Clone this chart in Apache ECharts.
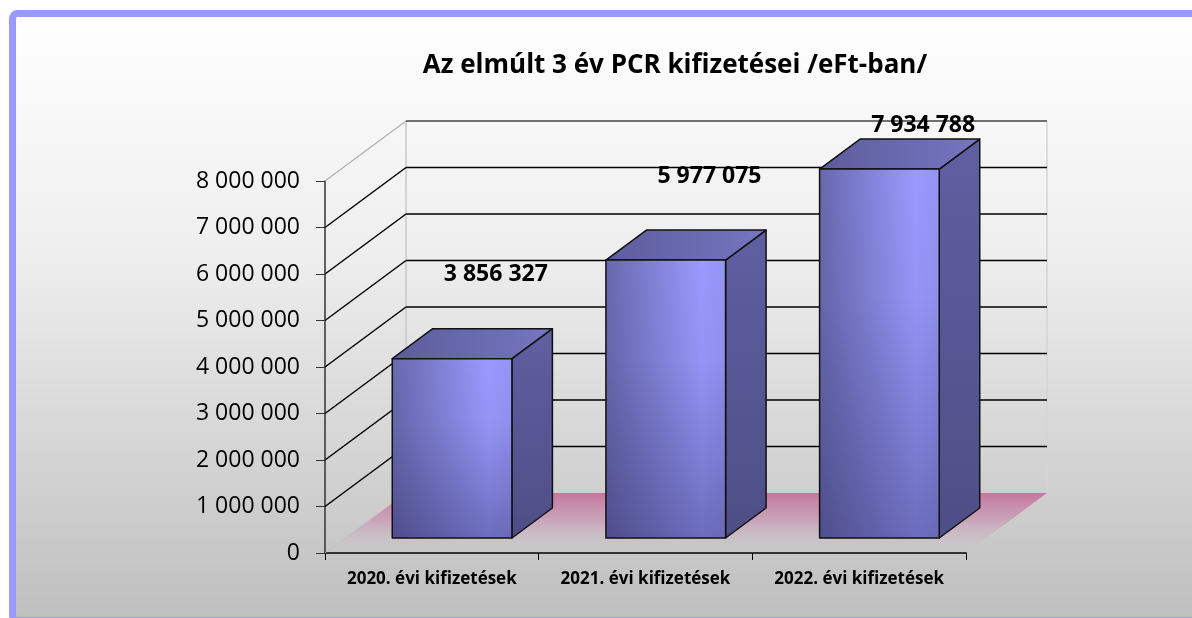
<!DOCTYPE html>
<html>
<head>
<meta charset="utf-8">
<script src="https://cdn.jsdelivr.net/npm/echarts@6/dist/echarts.min.js"></script>
<style>
  html, body { margin: 0; padding: 0; background: #fff; }
  #chart { width: 1192px; height: 618px; }
</style>
</head>
<body>
<div id="chart"></div>
<script>
// chart data
const categories = ['2020. évi kifizetések', '2021. évi kifizetések', '2022. évi kifizetések'];
const payments = [3856327, 5977075, 7934788];
const yTicks = [0, 1000000, 2000000, 3000000, 4000000, 5000000, 6000000, 7000000, 8000000];

// 3D look: depth offset of the back wall
const DX = 81, DY = -60;
const FONT = '"Open Sans", "DejaVu Sans", sans-serif';

const fmt = (v) => String(v).replace(/\B(?=(\d{3})+(?!\d))/g, ' ');

const chart = echarts.init(document.getElementById('chart'));

// back wall, side wall gridlines and the floor
const renderWalls = (params, api) => {
  const cs = params.coordSys;
  const v = api.value(1);
  const y = api.coord([0, v])[1];
  const x0 = cs.x, x1 = cs.x + cs.width;
  const children = [];
  if (v === 0) {
    children.push({
      type: 'polygon',
      shape: { points: [[x0, y], [x1, y], [x1 + DX, y + DY], [x0 + DX, y + DY]] },
      style: {
        fill: new echarts.graphic.LinearGradient(0, 0, 0, 1, [
          { offset: 0, color: 'rgba(198,118,158,1)' },
          { offset: 0.45, color: 'rgba(200,150,178,0.75)' },
          { offset: 1, color: 'rgba(200,200,200,0)' }
        ])
      }
    });
    children.push({
      type: 'line',
      shape: { x1: x0, y1: y, x2: x0 + DX, y2: y + DY },
      style: { stroke: '#bdbdbd', lineWidth: 1, lineDash: [2, 2] }
    });
    // back wall vertical edges
    children.push({
      type: 'line',
      shape: { x1: x0 + DX, y1: cs.y + DY, x2: x0 + DX, y2: y + DY },
      style: { stroke: '#c8c8c8', lineWidth: 1.5 }
    });
    children.push({
      type: 'line',
      shape: { x1: x1 + DX, y1: cs.y + DY, x2: x1 + DX, y2: y + DY },
      style: { stroke: '#d4d4d4', lineWidth: 1.5 }
    });
    return { type: 'group', children: children };
  }
  const top = v === yTicks[yTicks.length - 1];
  children.push({
    type: 'line',
    shape: { x1: x0, y1: y, x2: x0 + DX, y2: y + DY },
    style: { stroke: top ? '#b0b0b0' : '#000', lineWidth: top ? 1.2 : 1.5 }
  });
  children.push({
    type: 'line',
    shape: { x1: x0 + DX, y1: y + DY, x2: x1 + DX, y2: y + DY },
    style: { stroke: top ? '#444' : '#000', lineWidth: 1.5 }
  });
  return { type: 'group', children: children };
};

// 3D bars with their value labels
const renderBar = (params, api) => {
  const cs = params.coordSys;
  const i = api.value(0);
  const v = api.value(1);
  const base = api.coord([i, 0]);
  const topPt = api.coord([i, v]);
  const bw = api.size([1, 0])[0] * 0.56;
  const fx = DX * 0.25, fy = DY * 0.25;
  const ddx = DX * 0.5, ddy = DY * 0.5;
  const l = base[0] - bw / 2 + fx, r = base[0] + bw / 2 + fx;
  const b = base[1] + fy, t = topPt[1] + fy;
  const edge = { stroke: '#111', lineWidth: 1.5, lineJoin: 'round' };
  const labelY = Math.max(t - 84, cs.y - 56);
  return {
    type: 'group',
    children: [
      {
        type: 'polygon',
        shape: { points: [[r, b], [r + ddx, b + ddy], [r + ddx, t + ddy], [r, t]] },
        style: Object.assign({
          fill: new echarts.graphic.LinearGradient(0, 0, 0, 1, [
            { offset: 0, color: '#5f5fa2' },
            { offset: 1, color: '#4e4e86' }
          ])
        }, edge)
      },
      {
        type: 'polygon',
        shape: { points: [[l, t], [r, t], [r + ddx, t + ddy], [l + ddx, t + ddy]] },
        style: Object.assign({
          fill: new echarts.graphic.LinearGradient(0, 0, 1, 0, [
            { offset: 0, color: '#5c5c9c' },
            { offset: 1, color: '#7676c2' }
          ])
        }, edge)
      },
      {
        type: 'rect',
        shape: { x: l, y: t, width: r - l, height: b - t },
        style: {
          fill: new echarts.graphic.LinearGradient(0, 0, 1, 0, [
            { offset: 0, color: '#6868ae' },
            { offset: 0.8, color: '#9a9aff' },
            { offset: 1, color: '#9494f4' }
          ])
        }
      },
      {
        type: 'rect',
        shape: { x: l, y: t, width: r - l, height: b - t },
        style: Object.assign({
          fill: new echarts.graphic.LinearGradient(0, 0, 0, 1, [
            { offset: 0, color: 'rgba(40,40,90,0)' },
            { offset: 0.35, color: 'rgba(40,40,90,0.05)' },
            { offset: 1, color: 'rgba(40,40,90,0.4)' }
          ])
        }, edge)
      },
      {
        type: 'text',
        z2: 10,
        style: {
          text: fmt(v),
          x: base[0] + 64,
          y: labelY,
          align: 'center',
          verticalAlign: 'middle',
          font: 'bold 23px ' + FONT,
          fill: '#000'
        }
      }
    ]
  };
};

const option = {
  backgroundColor: '#fff',
  animation: false,
  title: {
    text: 'Az elmúlt 3 év PCR kifizetései /eFt-ban/',
    left: 670,
    top: 48,
    textAlign: 'center',
    textStyle: { fontFamily: FONT, fontWeight: 'bold', fontSize: 26, color: '#000' }
  },
  graphic: [
    {
      type: 'rect',
      z: -10,
      shape: { x: 12.5, y: 13.5, width: 1200, height: 607, r: 5 },
      style: {
        fill: new echarts.graphic.LinearGradient(0, 0, 0, 1, [
          { offset: 0, color: '#ffffff' },
          { offset: 0.4, color: '#eeeeee' },
          { offset: 1, color: '#bebebe' }
        ]),
        stroke: '#9999ff',
        lineWidth: 7
      }
    }
  ],
  grid: { left: 325, top: 181, width: 641, height: 372 },
  xAxis: {
    type: 'category',
    data: categories,
    axisLine: { lineStyle: { color: '#000', width: 1.5 } },
    axisTick: { show: true, length: 7, lineStyle: { color: '#000' } },
    axisLabel: {
      interval: 0,
      hideOverlap: false,
      fontFamily: FONT,
      fontWeight: 'bold',
      fontSize: 17,
      color: '#000',
      margin: 18
    },
    splitLine: { show: false }
  },
  yAxis: {
    type: 'value',
    min: 0,
    max: 8000000,
    interval: 1000000,
    axisLine: { show: true, lineStyle: { color: '#333', width: 1.5 } },
    axisTick: { show: true, length: 9, lineStyle: { color: '#333' } },
    axisLabel: { fontFamily: FONT, fontSize: 23, color: '#000', margin: 25, formatter: fmt },
    splitLine: { show: false }
  },
  series: [
    {
      type: 'custom',
      name: 'walls',
      z: 1,
      renderItem: renderWalls,
      data: yTicks.map((v) => [0, v]),
      silent: true
    },
    {
      type: 'custom',
      name: 'PCR kifizetések',
      z: 3,
      renderItem: renderBar,
      data: payments.map((v, i) => [i, v])
    }
  ]
};

chart.setOption(option);
</script>
</body>
</html>
